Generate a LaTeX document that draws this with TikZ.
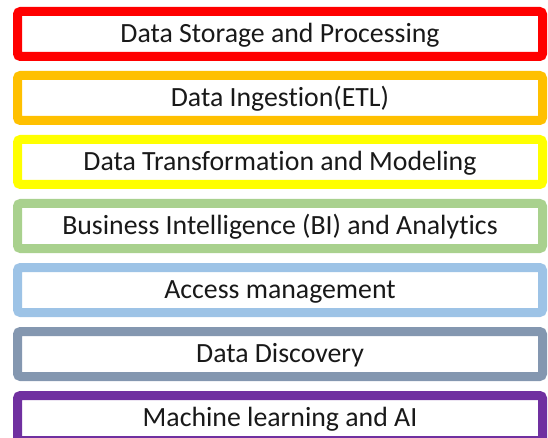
\documentclass[tikz,border=0pt]{standalone}
\usepackage{fontspec}
\setmainfont{Carlito}[Ligatures=NoCommon]
\usetikzlibrary{positioning}
\definecolor{layerred}{RGB}{255,0,0}
\definecolor{layerorange}{RGB}{255,192,0}
\definecolor{layeryellow}{RGB}{255,255,0}
\definecolor{layergreen}{RGB}{169,209,142}
\definecolor{layerblue}{RGB}{157,195,230}
\definecolor{layergray}{RGB}{132,151,176}
\definecolor{layerpurple}{RGB}{112,48,160}
\tikzset{
  layer/.style={draw=#1, line width=9pt, rounded corners=3pt, fill=white,
    minimum width=525pt, minimum height=45pt, inner sep=0pt,
    text height=17pt, text depth=0pt,
    font=\fontsize{27.8}{30}\selectfont, text=black!90}
}
\begin{document}
\begin{tikzpicture}[node distance=10pt]
\useasboundingbox (0,0) rectangle (548pt,-438pt);

\node[layer=layerred] (storage) at (280pt,-34pt) {Data Storage and Processing};
\node[layer=layerorange, below=of storage] (ingestion) {Data Ingestion(ETL)};
\node[layer=layeryellow, below=of ingestion] (transform) {Data Transformation and Modeling};
\node[layer=layergreen, below=of transform] (bi) {Business Intelligence (BI) and Analytics};
\node[layer=layerblue, below=of bi] (access) {Access management};
\node[layer=layergray, below=of access] (discovery) {Data Discovery};
\node[layer=layerpurple, below=of discovery] (ml) {Machine learning and AI};
\end{tikzpicture}
\end{document}
